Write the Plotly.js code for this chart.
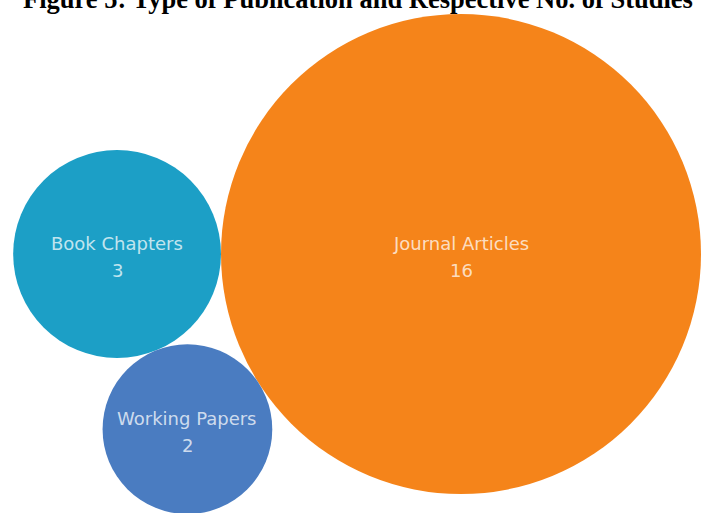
<!DOCTYPE html>
<html>
<head>
<meta charset="utf-8">
<script src="https://cdn.plot.ly/plotly-3.0.1.min.js"></script>
<style>html,body{margin:0;padding:0;background:#fff;}#chart{width:702px;height:513px;}</style>
</head>
<body>
<div id="chart"></div>
<script>
// ---- data ----
var categories = ["Journal Articles", "Book Chapters", "Working Papers"];
var studies = [16, 3, 2];
var colors = ["#F5841A", "#1C9FC6", "#4A7CC1"];
var titleText = "Figure 5: Type of Publication and Respective No. of Studies";

// ---- layout constants (pixel space) ----
var W = 702, H = 513;
var pxPerSqrt = 60;            // radius scale: r = pxPerSqrt * sqrt(value)
var anchor = {x: 461, y: 254}; // centre of the largest bubble

// radii from values (area-proportional)
var radii = studies.map(function (v) { return pxPerSqrt * Math.sqrt(v); });

// simple front-chain packing: biggest at anchor, 2nd tangent on the left,
// 3rd tangent to both, below.
var cx = [], cy = [];
cx[0] = anchor.x; cy[0] = anchor.y;
cx[1] = anchor.x - (radii[0] + radii[1]); cy[1] = anchor.y;
(function () {
  var d = radii[0] + radii[1];
  var dB = radii[1] + radii[2];
  var dJ = radii[0] + radii[2];
  var a = (dB * dB - dJ * dJ + d * d) / (2 * d);
  var h = Math.sqrt(dB * dB - a * a);
  cx[2] = cx[1] + a;
  cy[2] = cy[1] + h;   // y axis reversed: larger = lower
})();

var bubbles = {
  type: "scatter",
  mode: "markers",
  x: cx,
  y: cy,
  marker: {
    size: radii.map(function (r) { return 2 * r; }),
    sizemode: "diameter",
    color: colors,
    opacity: 1,
    line: {width: 0}
  },
  hoverinfo: "none",
  cliponaxis: false
};

var labelFont = {family: "DejaVu Sans", size: 18, color: "rgba(255,255,255,0.74)"};
var annotations = [];
for (var i = 0; i < categories.length; i++) {
  annotations.push({
    x: cx[i], y: cy[i], xref: "x", yref: "y",
    text: categories[i], showarrow: false, font: labelFont,
    xanchor: "center", yanchor: "middle", yshift: 11
  });
  annotations.push({
    x: cx[i], y: cy[i], xref: "x", yref: "y",
    text: String(studies[i]), showarrow: false, font: labelFont,
    xanchor: "center", yanchor: "middle", yshift: -16
  });
}
annotations.push({
  x: 0.51, y: 1, xref: "paper", yref: "paper",
  text: "<b>" + titleText + "</b>", showarrow: false,
  font: {family: "Liberation Serif", size: 26.5, color: "#000"},
  xanchor: "center", yanchor: "middle", yshift: 1
});

var layout = {
  width: W, height: H,
  margin: {l: 0, r: 0, t: 0, b: 0, pad: 0},
  paper_bgcolor: "#ffffff",
  plot_bgcolor: "#ffffff",
  showlegend: false,
  xaxis: {range: [0, W], visible: false, fixedrange: true},
  yaxis: {range: [H, 0], visible: false, fixedrange: true},
  annotations: annotations
};

Plotly.newPlot("chart", [bubbles], layout, {displayModeBar: false, staticPlot: true});
</script>
</body>
</html>
